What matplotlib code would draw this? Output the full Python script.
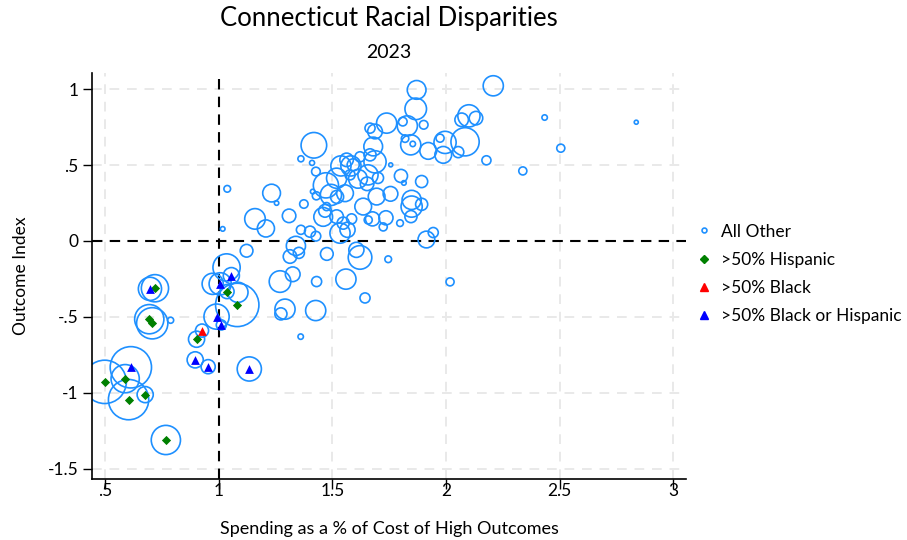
import numpy as np
import matplotlib.pyplot as plt
from matplotlib.lines import Line2D

plt.rcParams['font.family'] = ['Lato', 'DejaVu Sans']

# -------------------------------
# District data: spending ratio, outcome index, enrollment
# -------------------------------
other_x = [2.208, 1.871, 1.867, 1.739, 1.810, 1.902, 1.830, 1.688, 1.666, 2.101,
           2.069, 2.132, 2.084, 1.974, 1.996, 1.988, 2.054, 1.922, 1.845, 1.854,
           1.820, 1.680, 1.666, 1.688, 1.622, 1.563, 1.538, 1.592, 1.757, 1.802,
           2.178, 2.338, 2.505, 2.434, 2.837, 1.419, 1.362, 1.411, 1.428, 1.038,
           1.233, 1.255, 1.375, 1.310, 1.160, 1.208, 1.018, 1.362, 1.402, 1.428,
           1.340, 1.353, 1.314, 1.123, 1.476, 1.430, 1.414, 1.472, 1.494, 1.460,
           1.468, 1.519, 1.534, 1.585, 1.548, 1.606, 1.622, 1.636, 1.658, 1.556,
           1.582, 1.613, 1.657, 1.653, 1.519, 1.815, 1.893, 1.695, 1.756, 1.849,
           1.849, 1.893, 1.846, 1.798, 1.677, 1.736, 1.724, 1.567, 1.944, 1.914,
           1.746, 1.701, 1.521, 1.578, 1.475, 1.326, 1.270, 1.431, 1.560, 1.644,
           1.292, 1.274, 1.427, 1.361, 2.018, 1.035, 0.974, 0.789, 1.085]
other_y = [1.022, 0.995, 0.870, 0.776, 0.786, 0.765, 0.758, 0.721, 0.743, 0.824,
           0.798, 0.809, 0.653, 0.677, 0.649, 0.567, 0.585, 0.593, 0.633, 0.639,
           0.674, 0.622, 0.567, 0.521, 0.554, 0.534, 0.494, 0.501, 0.501, 0.428,
           0.531, 0.461, 0.611, 0.813, 0.782, 0.630, 0.541, 0.514, 0.457, 0.343,
           0.315, 0.249, 0.243, 0.165, 0.145, 0.082, 0.079, 0.073, 0.061, 0.031,
           -0.033, -0.079, -0.103, -0.065, -0.086, 0.297, 0.325, 0.366, 0.303, 0.158,
           0.198, 0.160, 0.051, 0.145, 0.117, -0.059, -0.109, 0.226, 0.138, 0.314,
           0.494, 0.409, 0.435, 0.376, 0.413, 0.382, 0.391, 0.292, 0.310, 0.270,
           0.226, 0.241, 0.160, 0.117, 0.145, 0.152, 0.092, 0.073, 0.055, 0.009,
           -0.121, 0.415, 0.290, 0.435, 0.226, -0.220, -0.268, -0.268, -0.252, -0.376,
           -0.450, -0.481, -0.459, -0.631, -0.270, -0.175, -0.283, -0.523, -0.339]
other_enroll = [4000, 3460, 4580, 4000, 740, 740, 4000, 2130, 1000, 4840,
                1800, 1800, 7840, 640, 4840, 2760, 1210, 2760, 4000, 290,
                550, 3460, 1440, 4840, 1000, 1800, 4000, 1440, 160, 1690,
                810, 640, 640, 290, 160, 6450, 360, 250, 740, 440,
                3100, 190, 700, 1800, 4160, 2890, 210, 810, 1210, 920,
                3610, 1210, 1800, 1590, 1590, 640, 210, 6250, 4410, 3460,
                1590, 1800, 4000, 1000, 1440, 2250, 5480, 2760, 640, 2760,
                4000, 3460, 4000, 1800, 4000, 210, 1440, 2760, 2130, 3610,
                4410, 1440, 1440, 440, 1960, 1960, 640, 2250, 1000, 2760,
                440, 1210, 1690, 1000, 640, 2130, 4580, 1000, 4000, 1000,
                4000, 1440, 4000, 290, 640, 7290, 4410, 360, 4000]

hisp_x = [0.720, 0.695, 0.708, 0.903, 0.499, 0.589, 0.604, 0.677, 0.768, 1.037, 1.082]
hisp_y = [-0.312, -0.516, -0.543, -0.648, -0.929, -0.908, -1.046, -1.013, -1.312, -0.334, -0.422]
hisp_enroll = [7290, 8410, 9610, 2560, 18490, 7840, 16000, 2560, 8410, 1960, 18490]

black_x = [0.927]
black_y = [-0.591]
black_enroll = [1690]

bh_x = [0.698, 0.897, 0.954, 1.135, 0.614, 0.991, 1.012, 1.007, 1.056]
bh_y = [-0.316, -0.784, -0.829, -0.844, -0.833, -0.499, -0.554, -0.283, -0.229]
bh_enroll = [5290, 2560, 1960, 5760, 16810, 6250, 1000, 4840, 2560]

xticks = [0.5, 1, 1.5, 2, 2.5, 3]
xtick_labels = ['.5', '1', '1.5', '2', '2.5', '3']
yticks = [1, 0.5, 0, -0.5, -1, -1.5]
ytick_labels = ['1', '.5', '0', '-.5', '-1', '-1.5']

bubble_color = '#1e90ff'

# -------------------------------
# Figure
# -------------------------------
fig = plt.figure(figsize=(9.07, 5.40), dpi=100)
ax = fig.add_axes([0.1014, 0.113, 0.655, 0.752])

# gridlines
for xv in xticks:
    if xv != 1:
        ax.axvline(xv, color='#e9e9e9', lw=1.4, ls=(0, (5, 4)), zorder=0)
for yv in yticks:
    if yv != 0:
        ax.axhline(yv, color='#e9e9e9', lw=1.4, ls=(0, (5, 4)), zorder=0)

# every district gets an enrollment-weighted hollow bubble
all_x = other_x + hisp_x + black_x + bh_x
all_y = other_y + hisp_y + black_y + bh_y
all_enroll = np.array(other_enroll + hisp_enroll + black_enroll + bh_enroll)
ax.scatter(all_x, all_y, s=all_enroll / 19.0, facecolors='none',
           edgecolors=bubble_color, linewidths=1.2, zorder=2)

# reference lines
ax.axvline(1, color='black', lw=1.5, ls=(0, (5, 3.5)), zorder=1)
ax.axhline(0, color='black', lw=1.5, ls=(0, (5, 3.5)), zorder=1)

# group markers on top
ax.scatter(hisp_x, hisp_y, marker='D', s=22, color='#008000', zorder=3, linewidths=0)
ax.scatter(black_x, black_y, marker='^', s=40, color='#ff0000', zorder=3, linewidths=0)
ax.scatter(bh_x, bh_y, marker='^', s=40, color='#0000ff', zorder=3, linewidths=0)

ax.set_xlim(0.443, 3.056)
ax.set_ylim(-1.569, 1.107)
ax.set_xticks(xticks)
ax.set_xticklabels(xtick_labels)
ax.set_yticks(yticks)
ax.set_yticklabels(ytick_labels)

for side in ['top', 'right']:
    ax.spines[side].set_visible(False)
for side in ['left', 'bottom']:
    ax.spines[side].set_linewidth(1.2)

ax.tick_params(axis='y', length=6.5, width=1.0, pad=3, labelsize=12.5)
ax.tick_params(axis='x', length=7, width=1.0, pad=-4, labelsize=12.5)

ax.set_xlabel('Spending as a % of Cost of High Outcomes', fontsize=13, labelpad=16)
ax.set_ylabel('Outcome Index', fontsize=12.5, labelpad=14)

fig.text(0.429, 0.966, 'Connecticut Racial Disparities', ha='center', va='center', fontsize=18.5)
fig.text(0.429, 0.902, '2023', ha='center', va='center', fontsize=14)

handles = [
    Line2D([], [], ls='none', marker='o', markersize=3.5, markerfacecolor='none',
           markeredgecolor=bubble_color, markeredgewidth=1.2),
    Line2D([], [], ls='none', marker='D', markersize=4.5, color='#008000'),
    Line2D([], [], ls='none', marker='^', markersize=5.5, color='#ff0000'),
    Line2D([], [], ls='none', marker='^', markersize=5.5, color='#0000ff'),
]
labels = ['All Other', '>50% Hispanic', '>50% Black', '>50% Black or Hispanic']
fig.legend(handles, labels, loc='center left', bbox_to_anchor=(0.751, 0.493),
           frameon=False, fontsize=12.5, handlelength=0.8, handletextpad=0.6,
           labelspacing=0.7)

plt.savefig('out.png', dpi=100)
